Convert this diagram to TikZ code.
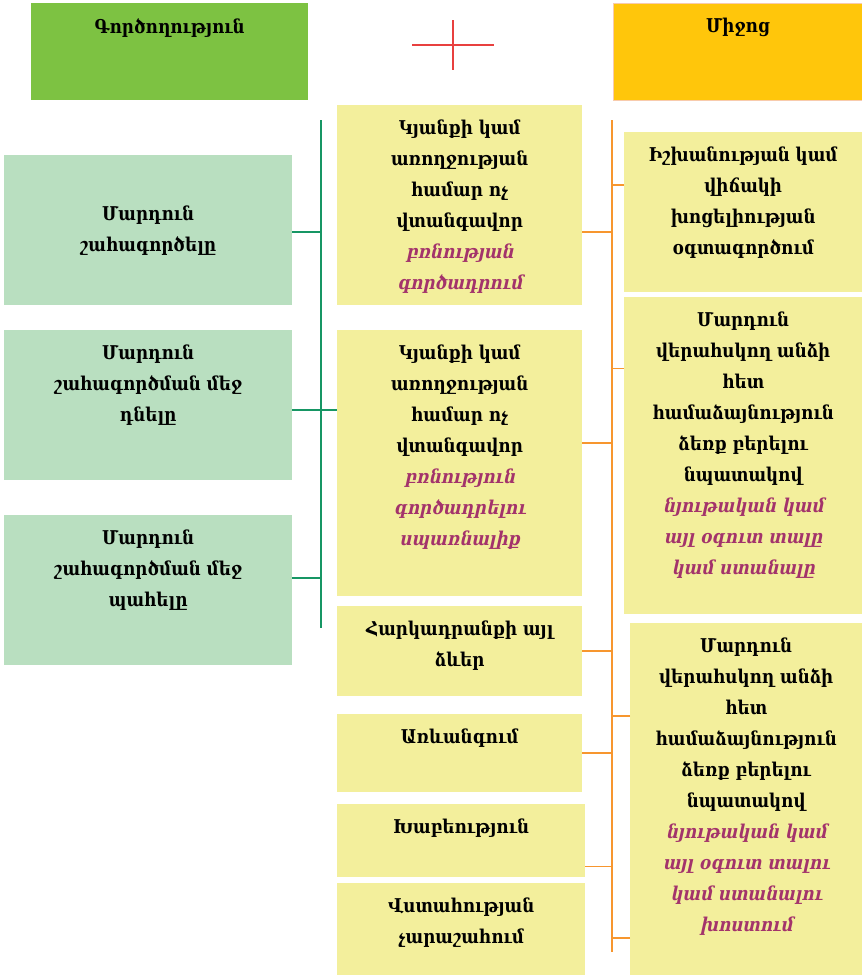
\documentclass[tikz,border=0pt]{standalone}
\usepackage{fontspec}
\setmainfont[FakeStretch=0.88]{DejaVu Serif}
\newfontfamily\slfont[FakeSlant=0.22, FakeStretch=0.88]{DejaVu Serif Bold}

\definecolor{hdrgreen}{RGB}{125,194,66}
\definecolor{hdryellow}{RGB}{255,198,11}
\definecolor{hdrpeach}{RGB}{248,203,173}
\definecolor{actgreen}{RGB}{185,223,192}
\definecolor{boxyellow}{RGB}{243,239,156}
\definecolor{spinegreen}{RGB}{22,150,100}
\definecolor{spineorange}{RGB}{247,150,46}
\definecolor{crossred}{RGB}{232,64,63}
\definecolor{notemag}{RGB}{163,51,107}

\newcommand{\note}[1]{{\color{notemag}\slfont #1}}

\tikzset{
  box/.style={rectangle, anchor=north west, inner sep=0pt},
  sz/.style 2 args={minimum width=#1pt, minimum height=#2pt},
  actbox/.style={box, fill=actgreen},
  ybox/.style={box, fill=boxyellow},
  txt/.style={align=center, font=\fontsize{19}{31}\selectfont\bfseries, inner sep=0pt},
  toptext/.style={label={[txt, anchor=north, yshift=-15]north:#1}},
  gwire/.style={spinegreen, line width=1.5pt},
  owire/.style={spineorange, line width=1.5pt},
}

\begin{document}
\begin{tikzpicture}[x=1pt, y=-1pt]
\useasboundingbox (0,0) rectangle (862,975);
\fill[white] (0,0) rectangle (862,975);

% headers
\node[box, fill=hdrgreen, sz={277}{97}, toptext={Գործողություն}] (act) at (31,3) {};
\node[box, fill=hdryellow, draw=hdrpeach, line width=1pt, sz={249}{97}, toptext={Միջոց}] (mean) at (613,3) {};
\coordinate (cross) at (453,45);
\draw[crossred, line width=1.5pt] ([xshift=-41]cross) -- ([xshift=41]cross)
  ([yshift=25]cross) -- ([yshift=-25]cross);

% actions
\node[actbox, txt, sz={288}{150}] (l1) at (4,155) {Մարդուն\\շահագործելը};
\node[actbox, sz={288}{150}, toptext={Մարդուն\\շահագործման մեջ\\դնելը}] (l2) at (4,330) {};
\node[actbox, sz={288}{150}, toptext={Մարդուն\\շահագործման մեջ\\պահելը}] (l3) at (4,515) {};

% means
\node[ybox, sz={245}{200}, toptext={Կյանքի կամ\\առողջության\\համար ոչ\\վտանգավոր\\\note{բռնության}\\\note{գործադրում}}] (m1) at (337,105) {};
\node[ybox, sz={245}{266}, toptext={Կյանքի կամ\\առողջության\\համար ոչ\\վտանգավոր\\\note{բռնություն}\\\note{գործադրելու}\\\note{սպառնալիք}}] (m2) at (337,330) {};
\node[ybox, sz={245}{90}, toptext={Հարկադրանքի այլ\\ձևեր}] (m3) at (337,606) {};
\node[ybox, sz={245}{78}, toptext={Առևանգում}] (m4) at (337,714) {};
\node[ybox, sz={248}{73}, toptext={Խաբեություն}] (m5) at (337,804) {};
\node[ybox, sz={248}{92}, toptext={Վստահության\\չարաշահում}] (m6) at (337,883) {};

\node[ybox, sz={238}{160}, toptext={Իշխանության կամ\\վիճակի\\խոցելիության\\օգտագործում}] (r1) at (624,132) {};
\node[ybox, sz={238}{317}, toptext={Մարդուն\\վերահսկող անձի\\հետ\\համաձայնություն\\ձեռք բերելու\\նպատակով\\\note{նյութական կամ}\\\note{այլ օգուտ տալը}\\\note{կամ ստանալը}}] (r2) at (624,297) {};
\node[ybox, sz={232}{352}, toptext={Մարդուն\\վերահսկող անձի\\հետ\\համաձայնություն\\ձեռք բերելու\\նպատակով\\\note{նյութական կամ}\\\note{այլ օգուտ տալու}\\\note{կամ ստանալու}\\\note{խոստում}}] (r3) at (630,623) {};

% green spine
\coordinate (gtop) at (321,120);
\coordinate (gbot) at (321,628);
\draw[gwire] (gtop) -- (gbot);
\draw[gwire] ([yshift=-2]l1.east) -- ([yshift=-2]l1.east -| gtop);
\draw[gwire] ([yshift=-5]l2.east) -- ([yshift=-5]l2.east -| m2.west);
\draw[gwire] ([yshift=12]l3.east) -- ([yshift=12]l3.east -| gtop);

% orange spine
\coordinate (otop) at (612,120);
\coordinate (obot) at (612,952);
\draw[owire] (otop) -- (obot);
\draw[owire] ([yshift=-27]m1.east) -- ([yshift=-27]m1.east -| otop);
\draw[owire] ([yshift=20]m2.east) -- ([yshift=20]m2.east -| otop);
\draw[owire] (m3.east) -- (m3.east -| otop);
\draw[owire] (m4.east) -- (m4.east -| otop);
\draw[owire] ([yshift=-26]m5.east) -- ([yshift=-26]m5.east -| otop);
\draw[owire] ([yshift=27]r1.west) -- ([yshift=27]r1.west -| otop);
\draw[owire] ([yshift=87]r2.west) -- ([yshift=87]r2.west -| otop);
\draw[owire] ([yshift=83]r3.west) -- ([yshift=83]r3.west -| otop);
\draw[owire] ([yshift=-139]r3.west) -- ([yshift=-139]r3.west -| otop);
\end{tikzpicture}
\end{document}
